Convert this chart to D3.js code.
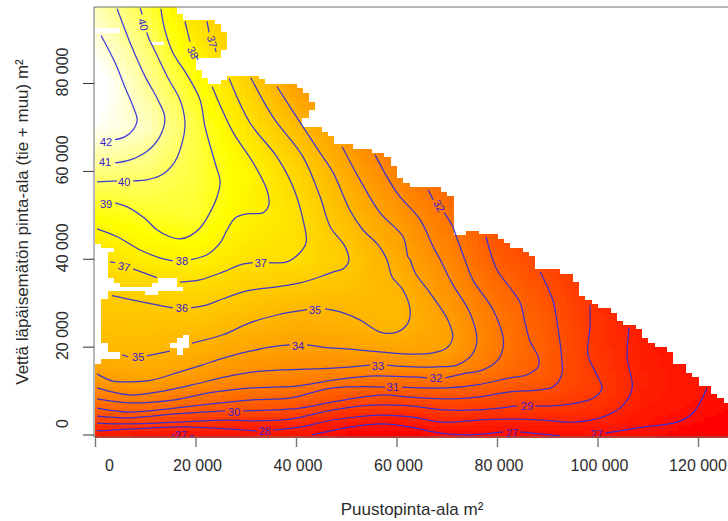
<!DOCTYPE html>
<html><head><meta charset="utf-8">
<style>html,body{margin:0;padding:0;background:#fff}svg{display:block}text{font-family:"Liberation Sans",Arial,sans-serif}</style>
<script src="https://cdn.jsdelivr.net/npm/d3@7"></script></head><body>
<div id="chart"></div>
<script>
// all areas in thousands of m²
const xTicks=[0,20,40,60,80,100,120];
const yTicks=[0,20,40,60,80];
const xTitle="Puustopinta-ala m²";
const yTitle="Vettä läpäisemätön pinta-ala (tie + muu) m²";

// coarse reading of the mean-value surface
const xNodes=[0,10,20,30,40,50,60,70,80,90,100,110,120,130];
const yNodes=[0,2.5,5,7.5,10,12.5,15,20,25,30,35,40,50,60,70,80,90,97.4];
const zRows=[
[27.6,27,27,27.1,27.3,26.4,26,26.9,26.8,26.9,27,26.7,26.2,25.8],
[29,29.1,28.8,28.1,28.2,27.5,27.1,27.9,27.7,27.8,27.8,27.1,26.5,26],
[30.4,30.8,30,29.8,29.6,28.6,28.4,28.8,28.7,28.6,28.3,27.4,26.9,26.3],
[31.8,32,31.4,30.9,30.6,29.8,29.5,29.7,29.5,29.3,28.8,27.6,27.1,26.5],
[32.8,33.2,32.4,31.9,31.6,30.8,30.6,30.8,30.4,29.9,29.1,27.7,27.2,26.6],
[33.6,34.1,33.4,32.7,32.4,32,31.7,31.8,31.1,30.4,29.1,27.75,27.2,26.6],
[34.2,34.5,34,33.3,33,32.9,32.8,32.9,31.7,30.6,28.9,27.7,27.1,26.6],
[35.1,35.2,34.8,34.2,34,34.1,34.2,34.1,32.1,30.7,28.8,27.6,27,26.5],
[35.6,35.6,35.5,35,34.6,34.7,35.1,34,32.1,30.6,28.7,27.5,26.9,26.4],
[35.9,36,36.2,35.7,35.3,35.2,35.2,33.6,31.7,30.3,28.6,27.3,26.8,26.3],
[36.4,36.7,37,36.4,36.1,35.7,34.9,33.2,31.3,29.9,28.4,27.1,26.6,26.2],
[37,37.7,38,37.1,37,36,34.5,32.8,30.7,29.5,28.1,26.9,26.5,26],
[38.6,39.1,39.3,38,37.1,35.3,33.6,31.9,29.8,28.8,27.5,26.5,26,26],
[40.6,40.3,39.5,38.2,36.5,34.4,32.4,30.9,29,28,27,26,26,26],
[42.5,41.7,39.6,37.3,35.3,33.4,31,30,28.5,27.5,26.5,26,26,26],
[43.2,41,38.8,36.4,33.8,32,30,29,28,27,26,26,26,26],
[42.1,40.3,37.6,35.5,32,31,29.5,28.5,27.5,26.5,26,26,26,26],
[41.5,39.6,36.8,35,31.5,30.5,29,28,27,26,26,26,26,26]
];

// raster column width and the top of the data in each column
const colWidth=1.25;
const colTop=[97.4,97.4,97.4,97.4,97.4,97.4,97.4,97.4,97.4,97.4,97.4,97.4,97.4,95.6,94.4,94.4,94.4,94.4,94.4,93.5,91.5,
81.7,81.7,81.7,81.7,81.7,80.8,79.8,79.8,79.8,79.8,79.8,78.9,77.8,75.7,70,68.9,68,66.2,66.2,66.2,65,65,65,64,64,63.2,61.2,58.4,57.3,
56.4,56.4,56.4,56.4,56.4,55.2,54.3,45.4,45.4,46.4,46.4,45.7,45.7,45.7,44.5,43.6,42.5,42.5,41.6,40.7,37.7,37.7,37.7,37.7,36.6,36.6,34.7,31.5,30.6,29.7,
28.8,28.8,27.7,25.9,24.9,24.9,24,22,20.8,19.9,19.9,18.8,16.1,16.1,14,13.1,11,11,9.2,8.3,7.2];
const rasterBottom=-0.6;

// gaps in the data: first column, last column, low y, high y
const gaps=[
[16,17,83,85.8],[17,18,81.2,85.8],[18,20,80,85.8],[20,21,80.8,87.6],
[0,4,91.5,92.6],[9,11,88.7,89.4],
[0,1,42.5,43.4],[0,3,41.6,42.5],[0,2,35.6,41.6],[0,3,34.5,35.6],[0,4,33.6,34.5],[0,14,32.7,33.6],[0,2,30.9,32.7],
[0,1,20.8,30.9],[0,2,18.8,20.8],[0,4,17.2,18.8],[0,1,16.1,17.2],
[10,13,33.6,35.6],[9,10,33.6,34.5],[8,10,31.8,32.7],
[14,15,19.9,22.7],[13,14,19.9,22],[12,13,19.9,20.8],[13,14,18.1,19.9],
[34,35,72,73.9],[33,35,70,72]
];

// contour lines: each level is a list of [x,y] runs
const c42=[[[4,67.1],[6,67.8],[7.6,69.4],[8.4,71.6],[7.6,74.6],[6,78.9],[4,84.6],[1.2,90.8]]];
const c41=[[[4,61.8],[7,62.5],[10.3,64.4],[12.9,67.8],[13.9,72.1],[12.5,76.2],[10,81.4],[7.4,88],[4.4,96.9]]];
const c40=[[[0.4,57.5],[4.4,57.7]],[[7.6,57.7],[10.5,58],[13.3,59.1],[15.9,62.1],[17.5,67.1],[17.9,71.2],[16.9,76.2],[14.5,81.2],[11.5,88.3],[10.9,89.6],[10.3,91.5]],[[9.4,95.6],[9,97]]];
const c39=[[[4,52.7],[6.4,51.8],[10,49.1],[12.3,46.6],[14.9,45],[16.9,44.5],[18.9,45.2],[20.9,47],[22.3,49.3],[24.3,54.1],[24.9,57.5],[23.9,61.8],[21.9,70],[20.9,76.2],[18.3,81.9],[15.5,86.9],[13.9,92.1],[13.1,96.9]]];
const c38=[[[0.4,46.8],[4.4,45],[9,42],[12.9,40.2],[15.5,39.5]],[[19.1,39.8],[22.3,40.9],[24.9,43.6],[26.3,46.6],[27.9,49.3],[30.2,50.2],[33.5,50.5],[34.6,52.3],[34.2,55.7],[31.5,61.8],[27.5,68.7],[25.3,73.9],[23.3,79.2]],[[17.9,94],[18.9,89.4]],[[20.1,86.2],[20.5,85.3]]];
const c37=[[[3,39.3],[4,39.1]],[[7.6,37.7],[12.3,35.7]],[[16.9,34.7],[20.9,35.2],[25.5,37],[28.9,38.6],[31.4,39.1]],[[34.6,39.1],[38.2,39.3],[40.4,40.9],[42,43.6],[41.4,48.9],[39.4,56.4],[36.2,63.2],[30.8,71],[26.7,81]],[[22.3,94],[22.7,91.5]],[[23.9,88],[24.1,87.1]]];
const c36=[[[3.4,31.6],[7.6,30.6],[12.3,29.5],[15.5,28.8]],[[19.1,28.8],[22.3,29.5],[25.5,30.9],[30.2,32.7],[36.2,33.6],[40.8,34.5],[44.8,35.9],[47.4,37],[49.4,37.7],[50.5,39.5],[49.8,42.7],[46.8,47.3],[44.8,54.1],[41.4,63.2],[35.4,72.3],[31,81.2]]];
const c35=[[[5.4,18.1],[6.6,17.7]],[[10.3,17.9],[14.9,19]],[[19.3,20.8],[25.5,22.7],[30.8,25.4],[36.2,27.2],[42.2,28.4]],[[45.8,28.6],[48.8,27.9],[52.7,26.1],[56.7,23.3],[60.1,23.3],[62.3,25.4],[62.7,28.4],[61.3,32.9],[59.1,35.9],[58.1,39.8],[56.3,43.2],[53.3,46.6],[50.7,51.1],[47.4,59.6],[44.8,64.1],[41.4,70],[36.2,79.2]]];
const c34=[[[0.4,13.8],[3.4,12.2],[6.8,12],[11.3,12.4],[16.7,14.2],[21.3,15.8],[25.5,17.4],[30.2,18.8],[34.8,19.9],[38.8,20.4]],[[42.2,20.4],[46.8,19.7],[50.1,19.5],[56.7,18.8],[63.3,18.3],[67.3,18.6],[70,19.7],[71.2,22.2],[70.2,26.1],[66.7,32.2],[63.7,36.8],[62.7,39.8],[62.3,40.4],[61.3,45],[56.7,50.5],[52.7,58],[49.2,65.5]]];
const c33=[[[0.4,10.6],[6.8,9],[12.7,9.7],[19.3,11.3],[25.9,13.1],[31.2,14.2],[37.4,14.7],[47.4,15.1],[54.7,15.8]],[[58.1,15.8],[63.3,15.4],[68.1,15.4],[72,15.8],[75,18.1],[76,21.5],[74.6,27.7],[71,34.5],[68.7,39.8],[67.3,42.7],[64.7,48.9],[60.1,55],[55.7,63.7]]];
const c32=[[[0.4,8.1],[6.8,7.2],[15.9,7.9],[22.7,9.5],[31.2,10.6],[35.4,10.8],[40.2,11],[47.4,12.4],[54.7,13.3],[62.7,13.1],[66.1,12.9]],[[69.7,12.9],[73.2,13.8],[77.2,14.7],[80.2,17],[81.2,19.7],[81.2,22.2],[79.2,28.4],[75.2,35.2],[73.6,39.8],[71.8,45.4],[71.2,47.3],[69.5,50.5]],[[67.3,53.4],[66.3,55.7]]];
const c31=[[[0.4,6],[6.8,5.1],[15.9,6],[22.7,6.9],[31.2,7.9],[38.8,8.3],[47.4,10.6],[57.7,10.8]],[[61.1,10.8],[70,10.6],[76,11.3],[82.6,12.9],[86,13.6],[88.2,15.4],[88.2,17.7],[86.6,21.1],[85.6,25.4],[84.6,30],[82.6,33.4],[80,37.5],[77.8,45]]];
const c30=[[[0.4,4.2],[6.8,3.8],[15.9,4.7],[25.9,5.4]],[[29.5,5.4],[30.8,5.4],[40.8,6],[47.4,7.4],[57.3,9],[62.7,8.5],[71.2,8.1],[76,8.5],[82.6,9.7],[88,10.1],[91.1,10.8],[92.9,13.6],[92.9,17],[92.1,24.5],[91.1,30.6],[88.6,37]]];
const c29=[[[0.4,2.6],[6.8,2.4],[15.9,2.8],[25.9,3.3],[30.8,3.1],[38.8,3.5],[47.4,5.6],[55.3,6.7],[62.7,6.5],[69.3,5.6],[76,5.6],[84,6.5]],[[87.6,6.5],[91.1,6.5],[95.9,7.2],[99.5,8.5],[100.9,10.6],[100.1,13.1],[98.1,18.1],[98.5,24.5],[98.5,29.5]]];
const c28=[[[0.4,0.8],[7.9,1.3],[19.3,1.7],[32.2,0.8]],[[35.4,1],[40.8,1.7],[47.4,3.3],[56.7,4.4],[62.7,4],[69.3,2.8],[76,3.3],[82.6,3.5],[89.2,3.3],[95.1,2.8],[101.1,4],[105.1,6.7],[106.9,10.6],[105.9,17.7],[106.3,24.3]]];
const c27=[[[15.3,-0.1],[15.9,-0.1]],[[18.9,-0.3],[19.7,-0.3]],[[43.2,-0.1],[50.7,1.7],[57.3,2.4],[62.7,1.7],[68.7,0.3],[74,-0.1],[81.2,0.6]],[[84.6,0.6],[92.5,-0.3]],[[101.5,0.3],[109.1,1.7],[115.8,2.8],[119,4.9],[121.8,10.6]]];
const contourLevels=[c42,c41,c40,c39,c38,c37,c36,c35,c34,c33,c32,c31,c30,c29,c28,c27];

// inline contour labels
const labelText =[42,41,40,39,38,37,36,35,37,35,34,33,32,31,30,29,28,27,27,27,40,38,37,32];
const labelX    =[2.2,2,5.8,2.2,17.3,5.8,17.3,8.6,33,43.8,40.4,56.3,67.9,59.3,27.7,86,33.8,17.1,83,99.9,9.6,19.5,23.3,68.5];
const labelY    =[66.6,61.9,57.5,52.5,39.5,38.2,28.8,17.7,39.1,28.4,20.2,15.6,12.9,10.8,5.1,6.5,0.8,-0.1,0.3,0.1,93.3,86.9,89.4,52];
const labelAngle=[0,0,0,0,0,12,0,0,0,0,0,0,0,0,0,0,0,0,0,0,75,65,75,60];

const W=728,H=521;
const x=d3.scaleLinear().domain([0,120]).range([95,698]);
const y=d3.scaleLinear().domain([0,80]).range([434.5,83]);
const color=d3.scaleLinear().domain([26.3,38.5,42.6]).range(["#ff0000","#ffff00","#ffffff"]).clamp(true);
const svg=d3.select("#chart").append("svg").attr("width",W).attr("height",H);
const fmt=d=>d===0?"0":d+" 000";

const soft=svg.append("defs").append("filter").attr("id","soft").attr("filterUnits","userSpaceOnUse")
  .attr("x",0).attr("y",0).attr("width",W+20).attr("height",H);
soft.append("feGaussianBlur").attr("stdDeviation",0.45);

function surface(px,py){
  const i=Math.min(d3.bisectRight(xNodes,px)-1,xNodes.length-2);
  const j=Math.max(0,Math.min(d3.bisectRight(yNodes,py)-1,yNodes.length-2));
  const t=(px-xNodes[i])/(xNodes[i+1]-xNodes[i]);
  const u=Math.max(0,(py-yNodes[j])/(yNodes[j+1]-yNodes[j]));
  const a=zRows[j][i]*(1-t)+zRows[j][i+1]*t;
  const b=zRows[j+1][i]*(1-t)+zRows[j+1][i+1]*t;
  return a*(1-u)+b*u;
}

const cells=[];
colTop.forEach((top,i)=>{
  for(let lo=rasterBottom;lo<top;lo=lo===rasterBottom?0:lo+1){
    const hi=Math.min(lo===rasterBottom?0:lo+1,top);
    cells.push({x0:i*colWidth,x1:(i+1)*colWidth,lo,hi});
  }
});
const raster=svg.append("g").attr("filter","url(#soft)");
raster.append("g").attr("shape-rendering","crispEdges").selectAll("rect").data(cells).join("rect")
  .attr("x",d=>x(d.x0)).attr("width",d=>x(d.x1)-x(d.x0)+0.5)
  .attr("y",d=>y(d.hi)).attr("height",d=>y(d.lo)-y(d.hi)+0.5)
  .attr("fill",d=>color(surface((d.x0+d.x1)/2,(d.lo+d.hi)/2)));

raster.append("g").attr("shape-rendering","crispEdges").selectAll("rect").data(gaps).join("rect")
  .attr("x",d=>x(d[0]*colWidth)).attr("width",d=>x(d[1]*colWidth)-x(d[0]*colWidth))
  .attr("y",d=>y(d[3])).attr("height",d=>y(d[2])-y(d[3])+0.5).attr("fill","#fff");

svg.append("clipPath").attr("id","plot").append("rect").attr("x",94).attr("y",7).attr("width",W-94).attr("height",430);
const line=d3.line().x(d=>x(d[0])).y(d=>y(d[1])).curve(d3.curveCatmullRom.alpha(0.5));
const gl=svg.append("g").attr("clip-path","url(#plot)");
gl.selectAll("path").data(contourLevels.flat()).join("path")
  .attr("d",line).attr("fill","none").attr("stroke","#2c2cdc").attr("stroke-width",1.25).attr("opacity",0.92);
gl.selectAll("text").data(labelText).join("text")
  .attr("transform",(d,i)=>`translate(${x(labelX[i])},${y(labelY[i])}) rotate(${labelAngle[i]})`)
  .attr("text-anchor","middle").attr("dy","0.36em").attr("font-size",11).attr("fill","#3a20cc").text(d=>d);

// frame
svg.append("path").attr("d",`M${W},7H94V437H${W}`).attr("fill","none").attr("stroke","#6e6e6e").attr("stroke-width",1);

const ax=svg.append("g").attr("transform","translate(0,437)")
  .call(d3.axisBottom(x).tickValues(xTicks).tickSize(10).tickPadding(13).tickFormat(fmt));
ax.select(".domain").remove();
ax.selectAll("line").attr("stroke","#777").attr("stroke-width",1.4);
ax.selectAll("text").attr("font-size",16).attr("fill","#2b2b2b").attr("font-family","Liberation Sans")
  .attr("dx",d=>d===0?14:(d===120?-0.5:1.5));

const ay=svg.append("g").attr("transform","translate(94,0)")
  .call(d3.axisLeft(y).tickValues(yTicks).tickSize(11).tickFormat(fmt));
ay.select(".domain").remove();
ay.selectAll("line").attr("stroke","#333").attr("stroke-width",1);
ay.selectAll("text").attr("font-size",16).attr("fill","#2b2b2b").attr("font-family","Liberation Sans")
  .attr("x",0).attr("dy",0)
  .attr("text-anchor","middle")
  .attr("transform",d=>`translate(-26,${-11.5}) rotate(-90)`);

svg.append("text").attr("x",412).attr("y",515).attr("text-anchor","middle").attr("font-size",17).attr("fill","#2b2b2b").text(xTitle);
svg.append("text").attr("transform","translate(28,222) rotate(-90)").attr("text-anchor","middle").attr("font-size",17).attr("fill","#2b2b2b").text(yTitle);
</script></body></html>
